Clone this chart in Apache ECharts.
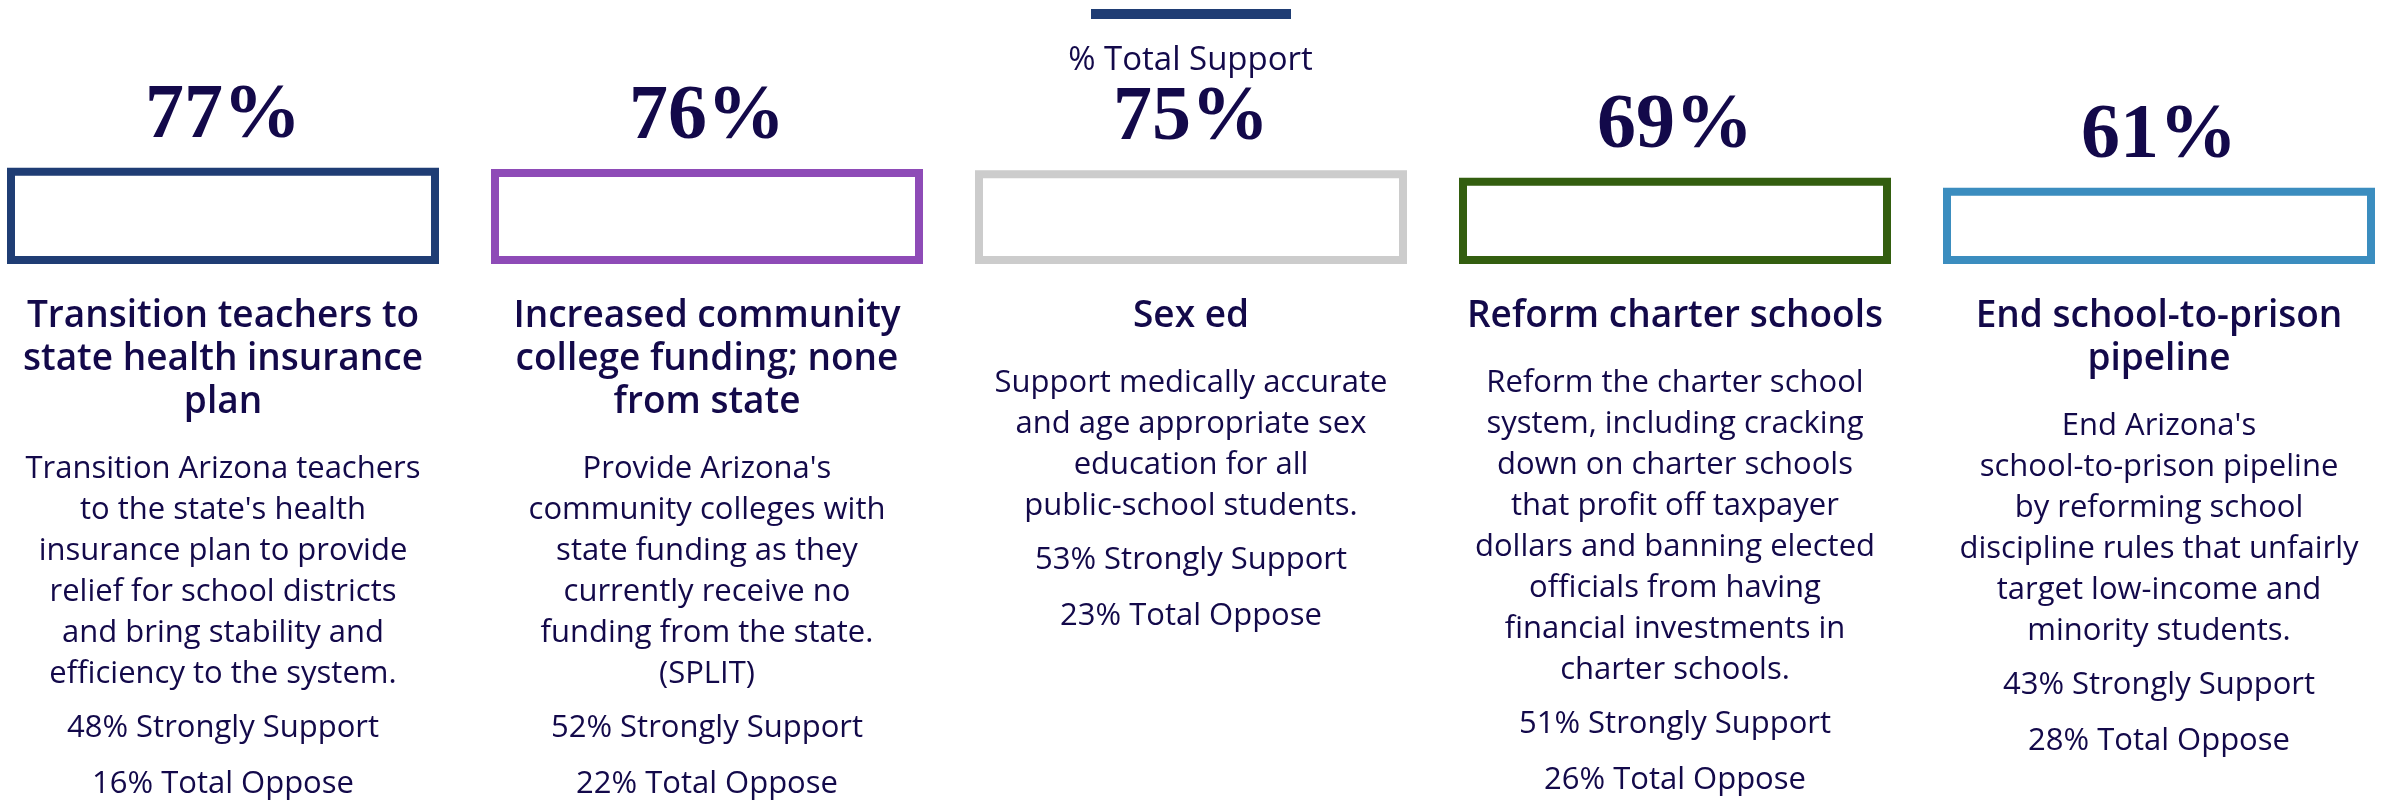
<!DOCTYPE html>
<html style="height: 100%">
<head>
  <meta charset="utf-8">
</head>
<body style="height: 100%; margin: 0; background: #ffffff">
  <div id="container" style="width: 2381px; height: 801px"></div>

  <script type="text/javascript" src="https://fastly.jsdelivr.net/npm/echarts@6/dist/echarts.min.js"></script>
  <script type="text/javascript">
    // chart data
    var titles = [
      ['Transition teachers to', 'state health insurance', 'plan'],
      ['Increased community', 'college funding; none', 'from state'],
      ['Sex ed'],
      ['Reform charter schools'],
      ['End school-to-prison', 'pipeline']
    ];
    var descriptions = [
      ["Transition Arizona teachers", "to the state's health", "insurance plan to provide", "relief for school districts", "and bring stability and", "efficiency to the system."],
      ["Provide Arizona's", "community colleges with", "state funding as they", "currently receive no", "funding from the state.", "(SPLIT)"],
      ["Support medically accurate", "and age appropriate sex", "education for all", "public-school students."],
      ["Reform the charter school", "system, including cracking", "down on charter schools", "that profit off taxpayer", "dollars and banning elected", "officials from having", "financial investments in", "charter schools."],
      ["End Arizona's", "school-to-prison pipeline", "by reforming school", "discipline rules that unfairly", "target low-income and", "minority students."]
    ];
    var totalSupport = [77, 76, 75, 69, 61];
    var strongSupport = [48, 52, 53, 51, 43];
    var totalOppose = [16, 22, 23, 26, 28];
    var barColors = ['#1f3d74', '#8e4bb7', '#cccccc', '#335e0f', '#3b8dbf'];

    var textColor = '#13094a';
    var sans = 'Open Sans';

    var dom = document.getElementById('container');
    var myChart = echarts.init(dom, null, { renderer: 'canvas' });

    var categories = titles.map(function (t) { return t.join(' '); });

    var option = {
      backgroundColor: '#ffffff',
      animation: false,
      title: {
        text: '% Total Support',
        left: 'center',
        top: 39,
        textStyle: { color: textColor, fontFamily: sans, fontWeight: 'normal', fontSize: 33 }
      },
      graphic: [{
        type: 'rect',
        shape: { x: 1091, y: 9, width: 200, height: 10 },
        style: { fill: '#1f3d74' }
      }],
      grid: { left: -19, right: -20, top: 139, bottom: 537, outerBoundsMode: 'none', containLabel: false },
      xAxis: {
        type: 'category',
        data: categories,
        axisLine: { show: false },
        axisTick: { show: false },
        axisLabel: {
          interval: 0,
          margin: 31,
          verticalAlign: 'top',
          color: textColor,
          formatter: function (value, i) {
            var lines = [];
            titles[i].forEach(function (l) { lines.push('{t|' + l + '}'); });
            lines.push('{g1| }');
            descriptions[i].forEach(function (l) { lines.push('{d|' + l + '}'); });
            lines.push('{g2| }');
            lines.push('{s|' + strongSupport[i] + '% Strongly Support}');
            lines.push('{s|' + totalOppose[i] + '% Total Oppose}');
            return lines.join('\n');
          },
          rich: {
            t: { fontFamily: sans, fontWeight: 600, fontSize: 37, lineHeight: 43, color: textColor },
            g1: { fontSize: 1, lineHeight: 25 },
            d: { fontFamily: sans, fontSize: 31, lineHeight: 41, color: textColor },
            g2: { fontSize: 1, lineHeight: 5 },
            s: { fontFamily: sans, fontSize: 31, lineHeight: 56, color: textColor }
          }
        }
      },
      yAxis: {
        type: 'value',
        min: 0,
        max: 100,
        show: false,
        splitLine: { show: false }
      },
      series: [{
        name: '% Total Support',
        type: 'bar',
        barWidth: 432,
        data: totalSupport.map(function (v, i) {
          return { value: v, itemStyle: { borderColor: barColors[i] } };
        }),
        itemStyle: { color: '#ffffff', borderWidth: 8 },
        label: {
          show: true,
          position: 'top',
          distance: 12,
          formatter: '{c}%',
          color: textColor,
          fontFamily: 'Liberation Serif',
          fontWeight: 'bold',
          fontSize: 78
        }
      }]
    };

    myChart.setOption(option);
    window.addEventListener('resize', myChart.resize);
  </script>
</body>
</html>
